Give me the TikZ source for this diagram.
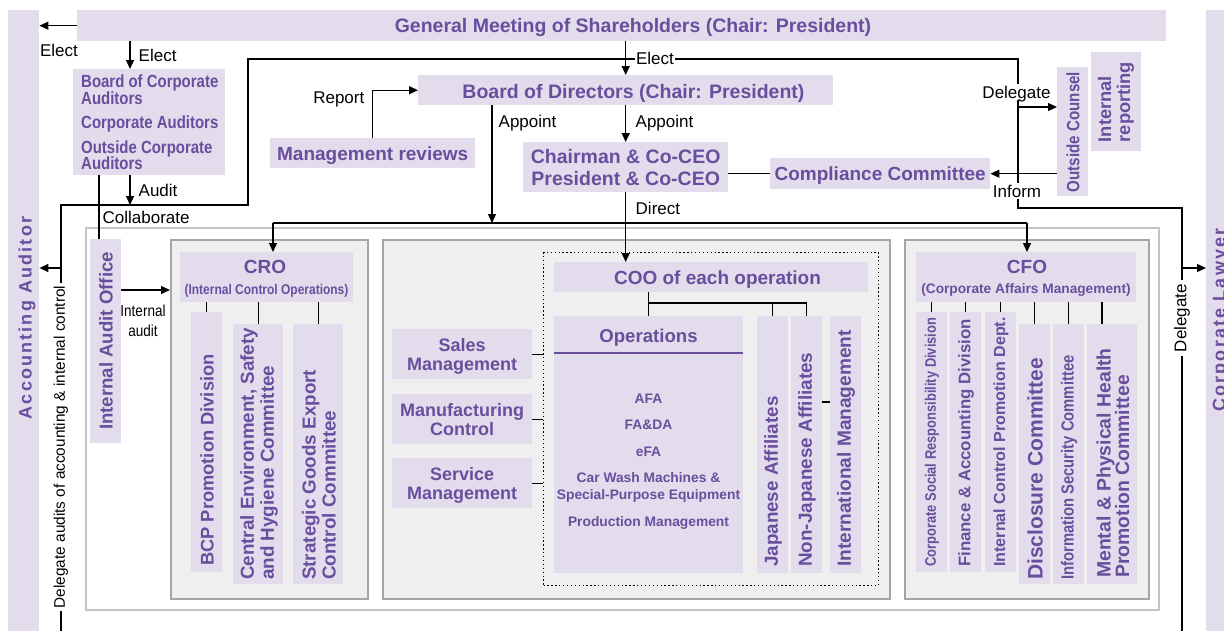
\documentclass[tikz,border=0pt]{standalone}
\usepackage{fontspec}
\setmainfont{Liberation Sans}
\newfontfamily\condf[FakeStretch=0.85]{Liberation Sans}
\newfontfamily\spacedf[LetterSpace=12]{Liberation Sans}
\usetikzlibrary{arrows.meta,calc}
\definecolor{lav}{RGB}{226,220,236}
\definecolor{purp}{RGB}{106,78,158}
\definecolor{grpfill}{RGB}{239,239,239}
\definecolor{grpdraw}{RGB}{165,165,165}
\definecolor{outdraw}{RGB}{196,196,196}
\newcommand{\fsz}[2]{\fontsize{#1}{#2}\selectfont}
\tikzset{
  box/.style={fill=lav, draw=none, inner sep=0pt, text=purp, align=center, anchor=north west, text depth=0pt},
  grp/.style={fill=grpfill, draw=grpdraw, line width=1.5pt, inner sep=0pt, anchor=north west},
  ptxt/.style={text=purp, inner sep=0pt, align=center, text depth=0pt},
  rt/.style={text=purp, inner sep=0pt, rotate=90, anchor=west, align=left},
  ln/.style={line width=1.3pt, black},
  arr/.style={ln, -{Triangle[length=9pt,width=8pt]}},
  lbl/.style={font=\fsz{17}{17}, inner sep=1.5pt, text=black, text depth=0pt},
  wlbl/.style={lbl, fill=white}
}
\begin{document}
\begin{tikzpicture}[x=1pt,y=-1pt]
\useasboundingbox (0,0) rectangle (1224,630);
\clip (0,0) rectangle (1224,630);
\fill[white] (0,0) rectangle (1224,630);

% side bars
\node[box,minimum width=31pt,minimum height=640pt] (aa) at (8,10) {};
\node[rt,anchor=center,font=\spacedf\bfseries\fsz{18}{18}] (aat) at (27,318) {Accounting Auditor};
\node[box,minimum width=34pt,minimum height=640pt] (cl) at (1206,10) {};
\node[rt,anchor=center,font=\spacedf\bfseries\fsz{18}{18}] (clt) at (1221,320) {Corporate Lawyer};

% top
\node[box,minimum width=1089pt,minimum height=31pt] (gm) at (77,10) {};
\node[ptxt,font=\bfseries\fsz{19.5}{20}] (gmt) at (633,25.5) {General Meeting of Shareholders (Chair: President)};

% corporate auditors
\node[box,minimum width=152pt,minimum height=106pt] (bca) at (73,69) {};
\node[ptxt,anchor=north west,align=left,font=\condf\bfseries\fsz{17.6}{16.5}] (bcat) at (81,75)
  {Board of Corporate\\Auditors\\[8pt]Corporate Auditors\\[8pt]Outside Corporate\\Auditors};

% board of directors
\node[box,minimum width=415pt,minimum height=30pt] (bod) at (418,75) {};
\node[ptxt,font=\bfseries\fsz{19.5}{20}] (bodt) at (633.5,91) {Board of Directors (Chair: President)};

\node[box,minimum width=205pt,minimum height=30pt,font=\bfseries\fsz{19}{20}] (mr) at (270,138) {Management reviews};
\node[box,minimum width=205pt,minimum height=50pt,font=\bfseries\fsz{19.5}{22}] (ceo) at (523,142) {Chairman \& Co-CEO\\President \& Co-CEO};
\node[box,minimum width=220pt,minimum height=31pt,font=\bfseries\fsz{19}{20}] (cc) at (770,158) {Compliance Committee};

\node[box,minimum width=31pt,minimum height=129pt] (oc) at (1057,67) {};
\node[rt,anchor=center,font=\condf\bfseries\fsz{17.8}{18}] (oct) at (1073,132) {Outside Counsel};
\node[box,minimum width=50pt,minimum height=99pt] (ir) at (1091,52) {};
\node[rt,anchor=center,font=\bfseries\fsz{18.3}{19}] (irt) at (1116,102) {Internal\\reporting};

% outer frame and groups
\node[draw=outdraw,line width=1.6pt,fill=white,inner sep=0pt,anchor=north west,minimum width=1073pt,minimum height=382pt] (outer) at (85,227) {};
\node[box,minimum width=31pt,minimum height=204pt] (iao) at (90,239) {};
\node[rt,anchor=center,font=\bfseries\fsz{18.6}{19}] (iaot) at (106,341) {Internal Audit Office};

\node[grp,minimum width=197pt,minimum height=359pt] (gl) at (170,239) {};
\node[grp,minimum width=507pt,minimum height=359pt] (gmid) at (382,239) {};
\node[grp,minimum width=244pt,minimum height=359pt] (gr) at (904,239) {};

% CRO group
\node[box,minimum width=173pt,minimum height=50pt] (cro) at (180,252) {};
\node[ptxt,font=\bfseries\fsz{19}{19}] (crot) at (265,267) {CRO};
\node[ptxt,font=\condf\bfseries\fsz{14.1}{14}] (crot2) at (266.5,289) {(Internal Control Operations)};
\node[box,minimum width=31pt,minimum height=260pt] (bcp) at (191,312) {};
\node[rt,font=\bfseries\fsz{18.3}{19}] (bcpt) at (207,566) {BCP Promotion Division};
\node[box,minimum width=50pt,minimum height=260pt] (ces) at (233,324) {};
\node[rt,font=\bfseries\fsz{18.8}{20}] (cest) at (259,580) {Central Environment, Safety\\and Hygiene Committee};
\node[box,minimum width=50pt,minimum height=260pt] (sge) at (293,324) {};
\node[rt,font=\bfseries\fsz{18.8}{20}] (sget) at (319,580) {Strategic Goods Export\\Control Committee};

% middle group
\node[draw,line width=1pt,dash pattern=on 1.3pt off 2.6pt,inner sep=0pt,anchor=north west,minimum width=335pt,minimum height=333pt] (dot) at (543,252) {};
\node[box,minimum width=314pt,minimum height=30pt] (coo) at (554,262) {};
\node[ptxt,font=\bfseries\fsz{19}{19}] (coot) at (717.5,277.5) {COO of each operation};
\node[box,minimum width=189pt,minimum height=257pt] (ops) at (554,316) {};
\node[ptxt,font=\bfseries\fsz{18.6}{19}] (opst) at (648.5,336) {Operations};
\draw[purp,line width=1.2pt] ($(ops.north west)+(0,37)$) -- ($(ops.north east)+(0,37)$);
\node[ptxt,anchor=base,font=\bfseries\fsz{13.8}{14}] (op1) at (648.5,403) {AFA};
\node[ptxt,anchor=base,font=\bfseries\fsz{13.8}{14}] (op2) at (648.5,429) {FA\&DA};
\node[ptxt,anchor=base,font=\bfseries\fsz{13.8}{14}] (op3) at (648.5,456) {eFA};
\node[ptxt,anchor=base,font=\bfseries\fsz{13.8}{14}] (op4) at (648.5,482) {Car Wash Machines \&};
\node[ptxt,anchor=base,font=\bfseries\fsz{13.8}{14}] (op5) at (648.5,499) {Special-Purpose Equipment};
\node[ptxt,anchor=base,font=\bfseries\fsz{13.8}{14}] (op6) at (648.5,526) {Production Management};
\node[box,minimum width=31pt,minimum height=257pt] (ja) at (757,316) {};
\node[rt,font=\bfseries\fsz{18.8}{19}] (jat) at (773,567) {Japanese Affiliates};
\node[box,minimum width=31pt,minimum height=257pt] (nja) at (791,316) {};
\node[rt,font=\bfseries\fsz{18.9}{19}] (njat) at (807,567) {Non-Japanese Affiliates};
\node[box,minimum width=31pt,minimum height=257pt] (im) at (830,316) {};
\node[rt,font=\bfseries\fsz{19.1}{19}] (imt) at (846,567) {International Management};
\node[box,minimum width=140pt,minimum height=50pt,font=\bfseries\fsz{18}{19}] (sm) at (392,329) {Sales\\Management};
\node[box,minimum width=140pt,minimum height=50pt,font=\bfseries\fsz{18}{19}] (mc) at (392,394) {Manufacturing\\Control};
\node[box,minimum width=140pt,minimum height=50pt,font=\bfseries\fsz{18}{19}] (svc) at (392,458) {Service\\Management};

% CFO group
\node[box,minimum width=220pt,minimum height=50pt] (cfo) at (916,252) {};
\node[ptxt,font=\bfseries\fsz{19}{19}] (cfot) at (1027,267) {CFO};
\node[ptxt,font=\bfseries\fsz{13.7}{14}] (cfot2) at (1026,289) {(Corporate Affairs Management)};
\node[box,minimum width=31pt,minimum height=260pt] (csr) at (916,312) {};
\node[rt,font=\condf\bfseries\fsz{15.2}{16}] (csrt) at (932,567) {Corporate Social Responsibility Division};
\node[box,minimum width=31pt,minimum height=260pt] (fad) at (950,312) {};
\node[rt,font=\bfseries\fsz{16.8}{17}] (fadt) at (966,567) {Finance \& Accounting Division};
\node[box,minimum width=31pt,minimum height=260pt] (icp) at (985,312) {};
\node[rt,font=\bfseries\fsz{16.1}{17}] (icpt) at (1001,567) {Internal Control Promotion Dept.};
\node[box,minimum width=31pt,minimum height=260pt] (dc) at (1019,324) {};
\node[rt,font=\bfseries\fsz{21}{21}] (dct) at (1035,580) {Disclosure Committee};
\node[box,minimum width=31pt,minimum height=260pt] (isc) at (1053,324) {};
\node[rt,font=\condf\bfseries\fsz{17.4}{18}] (isct) at (1069,580) {Information Security Committee};
\node[box,minimum width=50pt,minimum height=260pt] (mph) at (1087,324) {};
\node[rt,font=\bfseries\fsz{19.4}{18.5}] (mpht) at (1113,578) {Mental \& Physical Health\\Promotion Committee};

% helper coordinates
\coordinate (cx1) at (130,0);
\coordinate (jL) at (61,205);
\coordinate (jM) at (248,205);
\coordinate (eT) at (248,59);
\coordinate (eR) at (1018,59);
\coordinate (eRb) at (1018,208);
\coordinate (lwR) at (1182,208);
\coordinate (botL) at (61,640);
\coordinate (botR) at (1182,640);
\coordinate (aL) at (61,268);
\coordinate (aR) at (1182,268);
\coordinate (dR) at (1018,107);
\coordinate (apL) at (492,0);
\coordinate (hy) at (0,223);
\coordinate (croA) at (273,223);
\coordinate (cfoA) at (1027,223);
\coordinate (cb) at (99,0);
\coordinate (iaY) at (0,290);
\coordinate (cj) at (0,303);
\coordinate (nim) at (0,402);
\coordinate (xm) at (1102,0);

% connectors
\draw[arr] (gm.west) -- (gm.west -| aa.east);
\draw[arr] (gm.south -| cx1) -- (bca.north -| cx1);
\draw[arr] (bca.south -| cx1) -- (cx1 |- jL);
\draw[ln] (botL) -- (jL) -- (jM) -- (eT) -- (eR) -- (eRb) -- (lwR) -- (botR);
\draw[arr] (aL) -- (aL -| aa.east);
\draw[arr] (aR) -- (aR -| cl.west);
\draw[arr] (dR) -- (dR -| oc.west);
\draw[arr] (gm.south -| bod.north) -- (bod.north);
\draw[arr] (mr.north) |- (bod.west);
\draw[arr] (bod.south -| apL) -- (apL |- hy);
\draw[arr] (bod.south -| ceo.north) -- (ceo.north);
\draw[arr] (ceo.south) -- (ceo.south |- coo.north);
\draw[ln] (cc.west -| ceo.east) -- (cc.west);
\draw[arr] (oc.west |- cc.east) -- (cc.east);
\draw[ln] (croA) -- (cfoA);
\draw[arr] (croA) -- (croA |- cro.north);
\draw[arr] (cfoA) -- (cfoA |- cfo.north);
\draw[ln] (bca.south -| cb) -- (iao.north -| cb);
\draw[arr] (iao.east |- iaY) -- (gl.west |- iaY);
\draw[ln] (cro.south -| bcp.north) -- (bcp.north);
\draw[ln] (cro.south -| ces.north) -- (ces.north);
\draw[ln] (cro.south -| sge.north) -- (sge.north);
\draw[ln] (coo.south -| ops.north) -- (ops.north);
\draw[ln] (ops.north |- cj) -- (nja.north |- cj) -- (nja.north);
\draw[ln] (ja.north |- cj) -- (ja.north);
\draw[ln] (nja.east |- nim) -- (im.west |- nim);
\draw[ln] (sm.east) -- (sm.east -| dot.west);
\draw[ln] (mc.east) -- (mc.east -| dot.west);
\draw[ln] (svc.east) -- (svc.east -| dot.west);
\draw[ln] (cfo.south -| csr.north) -- (csr.north);
\draw[ln] (cfo.south -| fad.north) -- (fad.north);
\draw[ln] (cfo.south -| icp.north) -- (icp.north);
\draw[ln] (cfo.south -| dc.north) -- (dc.north);
\draw[ln] (cfo.south -| isc.north) -- (isc.north);
\draw[ln] (cfo.south -| xm) -- (mph.north -| xm);

% labels
\node[lbl] (l1) at (59,50) {Elect};
\node[lbl,anchor=west] (l2) at (137,55) {Elect};
\node[lbl,anchor=west] (l3) at (137,190) {Audit};
\node[lbl,anchor=west] (l4) at (101,217) {Collaborate};
\node[lbl,anchor=east] (l5) at (366,98) {Report};
\node[wlbl] (l6) at (655,58) {Elect};
\node[lbl,anchor=west] (l7) at (497,121) {Appoint};
\node[lbl,anchor=west] (l8) at (634,121) {Appoint};
\node[lbl,anchor=west] (l9) at (634,208) {Direct};
\node[wlbl] (l10) at (1016.5,92) {Delegate};
\node[wlbl] (l11) at (1017,191) {Inform};
\node[inner sep=0pt,align=center,font=\condf\fsz{15.9}{20}] (l12) at (143,321) {Internal\\audit};
\node[wlbl,rotate=90,inner sep=3pt,text depth=,font=\fsz{15.4}{16}] (l13) at (61,447) {Delegate audits of accounting \& internal control};
\node[wlbl,rotate=90,inner sep=4pt,text depth=] (l14) at (1182,318) {Delegate};
\end{tikzpicture}
\end{document}
